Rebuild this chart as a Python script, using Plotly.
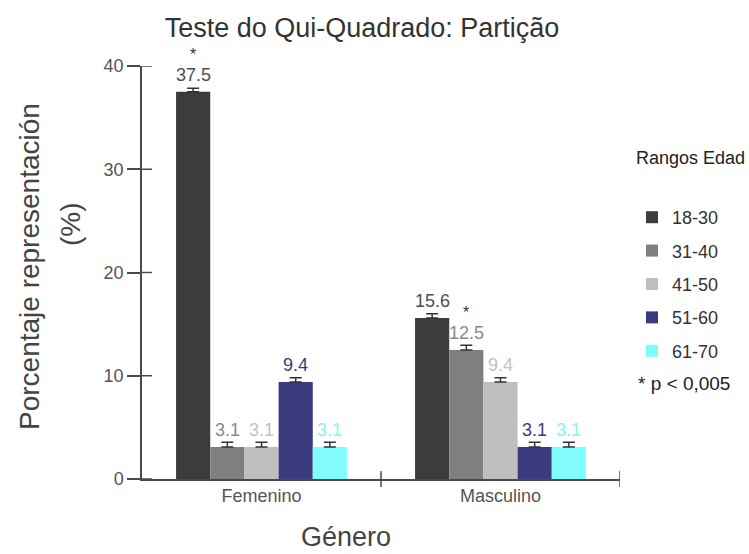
import plotly.graph_objects as go

# ---- data ----
categories = ["Femenino", "Masculino"]
age_ranges = ["18-30", "31-40", "41-50", "51-60", "61-70"]
values = {
    "18-30": [37.5, 15.6],
    "31-40": [3.1, 12.5],
    "41-50": [3.1, 9.4],
    "51-60": [9.4, 3.1],
    "61-70": [3.1, 3.1],
}
errors = {
    "18-30": [0.35, 0.4],
    "31-40": [0.45, 0.45],
    "41-50": [0.45, 0.4],
    "51-60": [0.4, 0.45],
    "61-70": [0.45, 0.45],
}
significant = {"18-30": [True, False], "31-40": [False, True]}
y_ticks = [0, 10, 20, 30, 40]

# ---- styles ----
bar_colors = {"18-30": "#3c3c3c", "31-40": "#7f7f7f", "41-50": "#bebebe",
              "51-60": "#3a3a7e", "61-70": "#80fcfc"}
label_colors = {"18-30": "#4d4d4d", "31-40": "#8a8a8a", "41-50": "#c2c2c2",
                "51-60": "#3a3a7e", "61-70": "#7ff5f5"}
FONT = "Arial, Liberation Sans, sans-serif"
BAR_W = 0.143
AX = "#4a4a4a"

fig = go.Figure()
annotations = []
n = len(age_ranges)
for si, ar in enumerate(age_ranges):
    xs = [ci + (si - (n - 1) / 2) * BAR_W for ci in range(len(categories))]
    fig.add_trace(go.Bar(
        x=xs, y=values[ar], width=BAR_W, name=ar, legendgroup=ar,
        marker=dict(color=bar_colors[ar], line=dict(width=0)),
        error_y=dict(type="data", array=errors[ar], arrayminus=[0] * len(errors[ar]),
                     symmetric=False, color="#333333", thickness=1.5, width=6),
        hoverinfo="skip",
    ))
    for ci, (x, v) in enumerate(zip(xs, values[ar])):
        annotations.append(dict(x=x, y=v, xref="x", yref="y", text=f"{v}",
                                showarrow=False, yanchor="middle", yshift=17,
                                font=dict(family=FONT, size=18, color=label_colors[ar])))
        if significant.get(ar, [False] * len(categories))[ci]:
            annotations.append(dict(x=x, y=v, xref="x", yref="y", text="*",
                                    showarrow=False, yanchor="middle", yshift=37,
                                    font=dict(family=FONT, size=16, color="#333")))

# axis titles and side texts
annotations += [
    dict(text="Porcentaje representación", xref="paper", yref="paper",
         x=(29 - 142) / 478, y=(479 - 267) / 413, textangle=-90, showarrow=False,
         xanchor="center", yanchor="middle",
         font=dict(family=FONT, size=28, color="#444")),
    dict(text="(%)", xref="paper", yref="paper",
         x=(70 - 142) / 478, y=(479 - 224) / 413, textangle=-90, showarrow=False,
         xanchor="center", yanchor="middle",
         font=dict(family=FONT, size=28, color="#444")),
    dict(text="Género", xref="paper", yref="paper",
         x=(346 - 142) / 478, y=(479 - 537) / 413, showarrow=False,
         xanchor="center", yanchor="middle",
         font=dict(family=FONT, size=27, color="#444")),
    dict(text="Rangos Edad", xref="paper", yref="paper",
         x=(690 - 142) / 478, y=(479 - 158) / 413, showarrow=False,
         xanchor="center", yanchor="middle",
         font=dict(family=FONT, size=18, color="#222")),
    dict(text="* p < 0,005", xref="paper", yref="paper",
         x=(636 - 142) / 478, y=(479 - 383) / 413, showarrow=False,
         xanchor="left", yanchor="middle",
         font=dict(family=FONT, size=19, color="#222")),
]

# tick marks crossing the axes
shapes = []
for t in y_ticks:
    shapes.append(dict(type="line", xref="paper", yref="y", xsizemode="pixel",
                       xanchor=0, x0=0, x1=10, y0=t, y1=t,
                       line=dict(color=AX, width=1.5)))
for ci in range(len(categories)):
    b = ci + 0.5
    shapes.append(dict(type="line", xref="x", yref="paper", ysizemode="pixel",
                       yanchor=0, y0=-8, y1=8, x0=b, x1=b,
                       line=dict(color=AX, width=1.5)))

fig.update_layout(
    width=749, height=554,
    margin=dict(l=142, r=129, t=66, b=75),
    paper_bgcolor="white", plot_bgcolor="white",
    title=dict(text="Teste do Qui-Quadrado: Partição", x=362 / 749, xanchor="center",
               y=1 - 28 / 554, yanchor="middle", yref="container",
               font=dict(family=FONT, size=27, color="#333")),
    barmode="overlay",
    showlegend=True,
    legend=dict(x=(632 - 142) / 478, xanchor="left", y=(479 - 199) / 413, yanchor="top",
                traceorder="grouped", tracegroupgap=7,
                font=dict(family=FONT, size=18, color="#333"),
                bgcolor="rgba(0,0,0,0)"),
    annotations=annotations,
    shapes=shapes,
    xaxis=dict(range=[-0.5, len(categories) - 0.5], tickvals=list(range(len(categories))),
               ticktext=categories, showline=True, linecolor=AX, linewidth=1.5,
               ticks="", showgrid=False, zeroline=False,
               tickfont=dict(family=FONT, size=18, color="#555")),
    yaxis=dict(range=[0, 40], tickvals=y_ticks, showline=True, linecolor=AX, linewidth=1.5,
               ticks="outside", ticklen=13, tickwidth=1.5, tickcolor=AX,
               showgrid=False, zeroline=False,
               tickfont=dict(family=FONT, size=18, color="#555")),
)

fig.write_html("out.html", config={"displayModeBar": False},
               post_script="document.body.style.margin='0px';")
